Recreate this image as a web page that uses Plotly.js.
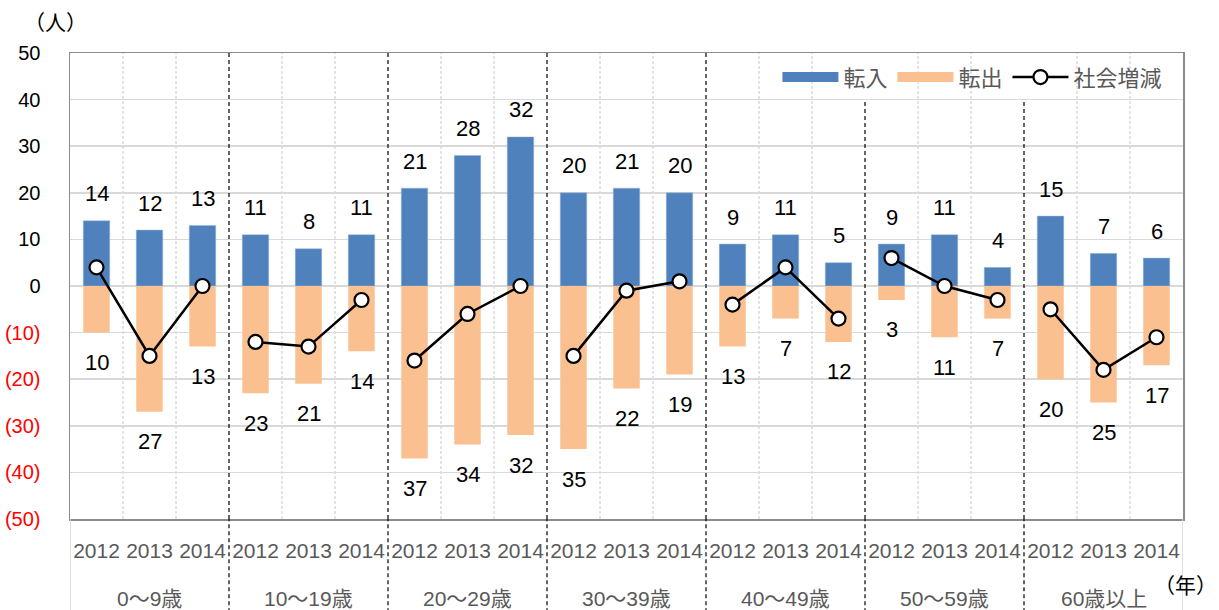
<!DOCTYPE html>
<html><head><meta charset="utf-8">
<script src="https://cdn.plot.ly/plotly-3.0.1.min.js"></script>
<style>body{margin:0;background:#fff}#c{width:1219px;height:610px}</style>
</head><body><div id="c"></div>
<script>
const groups = ['0～9歳','10～19歳','20～29歳','30～39歳','40～49歳','50～59歳','60歳以上'];
const years = ['2012','2013','2014'];
const inflow  = [14,12,13, 11,8,11, 21,28,32, 20,21,20, 9,11,5, 9,11,4, 15,7,6];
const outflow = [10,27,13, 23,21,14, 37,34,32, 35,22,19, 13,7,12, 3,11,7, 20,25,17];
const net     = [4,-15,0, -12,-13,-3, -16,-6,0, -15,-1,1, -4,4,-7, 6,0,-3, -5,-18,-11];
const yTicks = [50,40,30,20,10,0,-10,-20,-30,-40,-50];

const BLUE='#4F81BD', ORANGE='#FAC090', GRAY='#595959';
const FONT='"Liberation Sans","Noto Sans CJK JP",sans-serif';
const n = inflow.length;
const xs = inflow.map((_,i)=>i);
const xLabels = xs.map(i=>years[i%3]);

// net line broken between age groups
const netX = [], netY = [];
xs.forEach(i=>{ netX.push(i); netY.push(net[i]); if (i%3===2 && i<n-1) { netX.push(null); netY.push(null); } });

const traces = [
  {type:'bar', x:xs, y:inflow, marker:{color:BLUE, line:{color:'#9fb8d9',width:0.5}}, width:0.5, showlegend:false, hoverinfo:'skip'},
  {type:'bar', x:xs, y:outflow.map(v=>-v), marker:{color:ORANGE}, width:0.5, showlegend:false, hoverinfo:'skip'},
  {type:'scatter', mode:'lines', x:[null], y:[null], name:'転入', line:{color:BLUE,width:14}},
  {type:'scatter', mode:'lines', x:[null], y:[null], name:'転出', line:{color:ORANGE,width:14}},
  {type:'scatter', mode:'lines+markers', x:netX, y:netY, name:'社会増減', connectgaps:false,
   line:{color:'#000',width:2.5}, marker:{size:14,color:'#fff',line:{color:'#000',width:2.2}}}
];

const ann = [];
xs.forEach(i=>{
  ann.push({x:i, y:inflow[i], xref:'x', yref:'y', text:String(inflow[i]), showarrow:false,
    yshift:27, yanchor:'middle', font:{size:22,color:'#000',family:FONT}});
  ann.push({x:i, y:-outflow[i], xref:'x', yref:'y', text:String(outflow[i]), showarrow:false,
    yshift:-30, yanchor:'middle', font:{size:22,color:'#000',family:FONT}});
});
groups.forEach((g,k)=>{
  ann.push({x:k*3+1, y:0, xref:'x', yref:'paper', text:g, showarrow:false, yshift:-79, yanchor:'middle',
    font:{size:21,color:GRAY,family:FONT}});
});
ann.push({x:0, y:1, xref:'paper', yref:'paper', text:'（人）', showarrow:false, xshift:-15, yshift:31,
  xanchor:'center', yanchor:'middle', font:{size:21,color:'#000',family:FONT}});
ann.push({x:1, y:0, xref:'paper', yref:'paper', text:'（年）', showarrow:false, xshift:2, yshift:-66,
  xanchor:'center', yanchor:'middle', font:{size:21,color:'#000',family:FONT}});

const shapes = [];
for (let b=0.5; b<n-1; b+=1) {
  const isGroup = Math.round(b+0.5)%3===0;
  if (isGroup) {
    const under = b>12.5; // behind legend
    shapes.push({type:'line', xref:'x', x0:b, x1:b, yref:under?'y':'paper', y0:under?-50:0, y1:under?40:1,
      line:{color:'#000',width:1.2,dash:'4px,3px'}, layer:'above'});
    shapes.push({type:'line', xref:'x', x0:b, x1:b, yref:'paper', y0:-0.2, y1:0,
      line:{color:'#000',width:1.2,dash:'4px,3px'}});
  } else {
    shapes.push({type:'line', xref:'x', x0:b, x1:b, yref:'paper', y0:0, y1:1,
      line:{color:'#c8c8c8',width:1,dash:'3px,2px'}, layer:'below'});
  }
}
[-0.5, n-0.5].forEach(b=>{
  shapes.push({type:'line', xref:'x', x0:b, x1:b, yref:'paper', y0:-0.2, y1:0, line:{color:'#d9d9d9',width:1.5}});
});

const layout = {
  width:1219, height:610,
  margin:{l:70, r:36, t:53, b:91},
  paper_bgcolor:'#fff', plot_bgcolor:'#fff',
  barmode:'overlay',
  font:{family:FONT},
  showlegend:true,
  legend:{orientation:'h', x:0.986, xanchor:'right', y:0.948, yanchor:'middle', bgcolor:'rgba(0,0,0,0)',
    font:{size:22,color:GRAY,family:FONT}, itemwidth:56, tracegroupgap:0},
  xaxis:{range:[-0.5,n-0.5], tickvals:xs, ticktext:xLabels, showgrid:false, zeroline:false,
    showline:true, mirror:true, linecolor:'#8c8c8c', linewidth:1.5, ticks:'', ticklabelstandoff:12,
    tickfont:{size:21,color:GRAY,family:FONT}, fixedrange:true},
  yaxis:{range:[-50,50], tickvals:yTicks,
    ticktext:yTicks.map(v=>v<0?'<span style="color:#ff0000">('+(-v)+')</span>':String(v)),
    showgrid:true, gridcolor:'#d9d9d9', gridwidth:1.5, zeroline:false,
    showline:true, mirror:true, linecolor:'#8c8c8c', linewidth:1.5, ticks:'', ticklabelstandoff:24,
    tickfont:{size:20,color:'#000',family:FONT}, fixedrange:true},
  annotations:ann, shapes:shapes
};
Plotly.newPlot('c', traces, layout, {displayModeBar:false, staticPlot:true});
</script></body></html>
